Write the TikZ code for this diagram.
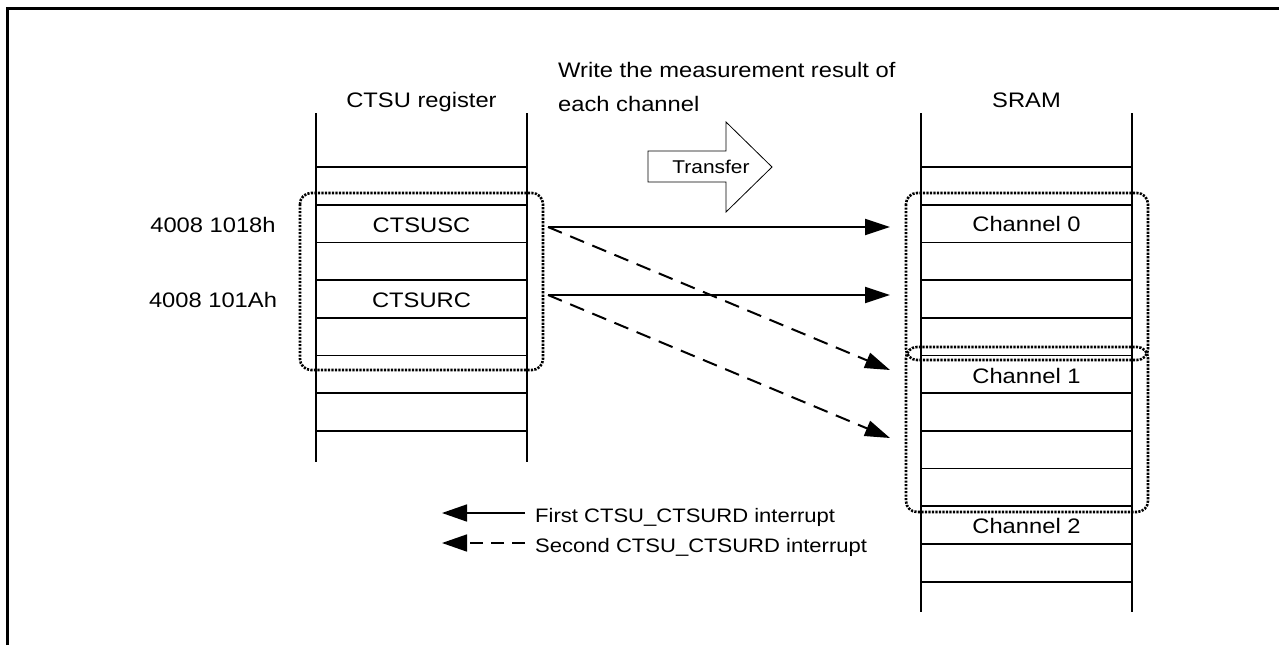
\documentclass[tikz,border=0pt]{standalone}
\usepackage{fontspec}
\setmainfont[FakeStretch=1.13]{Liberation Sans}
\usetikzlibrary{arrows.meta}
\begin{document}
\begin{tikzpicture}[x=1pt,y=-1pt,
  col/.style={line width=1.8pt},
  row/.style={line width=1.7pt},
  grp/.style={line width=2.6pt, dash pattern=on 2.2pt off 1.3pt, rounded corners=11pt},
  txt/.style={font=\fontsize{21}{34}\selectfont, inner sep=0pt, anchor=base},
  legtxt/.style={font=\fontsize{19.5}{30}\selectfont, inner sep=0pt, anchor=base west},
  conn/.style={line width=2pt, -{Triangle[length=25pt,width=16pt]}},
  conn2/.style={conn, dash pattern=on 15pt off 9pt},
  leg/.style={line width=1.6pt, -{Triangle[length=25pt,width=17pt]}},
  leg2/.style={leg, dash pattern=on 13pt off 8pt},
]
\useasboundingbox (0,0) rectangle (1279,645);
% frame
\draw[line width=3pt] (7.3,645) -- (7.3,8.7) -- (1279,8.7);

% CTSU register column
\draw[col] (316,113) -- (316,462);
\draw[col] (527,113) -- (527,462);
\foreach \k in {0,...,7}
  \draw[row] (316,{167+37.7*\k}) -- (527,{167+37.7*\k});

% SRAM column
\draw[col] (921,113) -- (921,612);
\draw[col] (1132,113) -- (1132,612);
\foreach \k in {0,...,11}
  \draw[row] (921,{167+37.7*\k}) -- (1132,{167+37.7*\k});

% texts
\node[txt] (lhead) at (421.5,107) {CTSU register};
\node[txt] (rhead) at (1026.5,107) {SRAM};
\node[txt] (sc) at (421.5,232) {CTSUSC};
\node[txt] (rc) at (421.5,307) {CTSURC};
\node[txt] (a1) at (213,232) {4008 1018h};
\node[txt] (a2) at (213,307) {4008 101Ah};
\node[txt] (ch0) at (1026.5,231) {Channel 0};
\node[txt] (ch1) at (1026.5,383) {Channel 1};
\node[txt] (ch2) at (1026.5,533) {Channel 2};
\node[txt, anchor=base west, align=left] (note) at (558,111) {Write the measurement result of\\each channel};

% transfer arrow
\draw[line width=0.8pt] (648,151) -- (726,151) -- (726,122) -- (772,167) -- (726,212) -- (726,182) -- (648,182) -- cycle;
\node[txt, font=\fontsize{18.5}{22}\selectfont] (tr) at (711,173) {Transfer};

% groups
\draw[grp] (300,193) rectangle (543,370);
\draw[grp] (906,193) rectangle (1148,360);
\draw[grp] (906,347) rectangle (1148,512);

% connectors
\coordinate (s1) at (548,227);
\coordinate (s2) at (548,295);
\coordinate (e1) at (890,227);
\coordinate (e2) at (890,295);
\coordinate (e3) at (890,370);
\coordinate (e4) at (890,438);
\draw[conn] (s1) -- (e1);
\draw[conn] (s2) -- (e2);
\draw[conn2] (s1) -- (e3);
\draw[conn2] (s2) -- (e4);

% legend
\node[legtxt] (l1) at (535,522) {First CTSU\_CTSURD interrupt};
\node[legtxt] (l2) at (535,552) {Second CTSU\_CTSURD interrupt};
\coordinate (l1s) at (525,513);
\coordinate (l1e) at (442,513);
\coordinate (l2s) at (525,543);
\coordinate (l2e) at (442,543);
\draw[leg] (l1s) -- (l1e);
\draw[leg2] (l2s) -- (l2e);
\end{tikzpicture}
\end{document}
